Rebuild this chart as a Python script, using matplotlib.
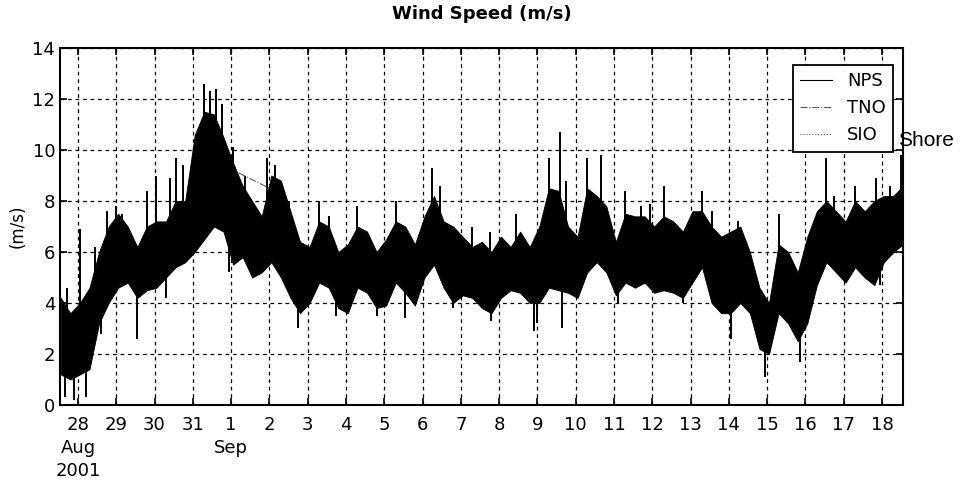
import matplotlib
matplotlib.use("Agg")
import matplotlib.pyplot as plt
import numpy as np

# wind speed (day 0 = 28 Aug 2001)
# core band of the record, one upper / lower level per 6 hours from day -0.45
t0 = -0.45
step = 0.25
hi = [4.2, 3.6, 4.0, 4.6, 6.0, 7.0, 7.5, 7.0, 6.2, 7.0,
      7.2, 7.2, 8.0, 8.0, 10.6, 11.5, 11.4, 10.5, 9.5, 8.6,
      8.0, 7.4, 9.0, 8.8, 7.6, 6.4, 6.2, 7.2, 7.0, 6.0,
      6.3, 7.0, 6.8, 6.0, 6.5, 7.2, 7.0, 6.3, 7.4, 8.2,
      7.2, 7.0, 6.6, 6.2, 6.4, 6.0, 6.6, 6.2, 6.8, 6.2,
      7.0, 8.5, 8.4, 7.0, 6.6, 8.5, 8.2, 7.8, 6.4, 7.5,
      7.4, 7.4, 7.0, 7.4, 7.2, 6.8, 7.6, 7.6, 7.0, 6.6,
      6.8, 7.0, 6.0, 4.6, 4.0, 6.3, 6.0, 5.2, 6.6, 7.6,
      8.0, 7.6, 7.2, 8.0, 7.6, 8.0, 8.2, 8.2, 8.6]
lo = [1.2, 1.0, 1.2, 1.4, 3.2, 4.0, 4.6, 4.8, 4.2, 4.5,
      4.6, 5.0, 5.4, 5.6, 6.0, 6.5, 7.0, 6.8, 5.5, 5.8,
      5.0, 5.2, 5.6, 5.0, 4.2, 3.6, 4.0, 4.8, 4.6, 3.8,
      3.6, 4.6, 4.4, 3.8, 3.9, 4.8, 4.4, 3.9, 5.0, 5.5,
      4.6, 4.0, 4.3, 4.2, 3.8, 3.6, 4.2, 4.5, 4.4, 4.0,
      4.0, 4.6, 4.5, 4.4, 4.2, 5.2, 5.6, 5.2, 4.3, 4.8,
      4.6, 4.8, 4.4, 4.5, 4.4, 4.2, 4.8, 5.4, 4.0, 3.6,
      3.6, 4.0, 3.6, 2.2, 2.0, 3.6, 3.2, 2.5, 3.2, 4.7,
      5.6, 5.2, 4.8, 5.4, 5.0, 4.7, 5.6, 6.0, 6.3]

# narrow gusts above the band and lulls below it
gust_t = [-0.3, 0.05, 0.45, 0.75, 1.0, 1.15, 1.8, 2.05, 2.4, 2.55,
          2.75, 3.3, 3.45, 3.6, 3.75, 4.05, 4.35, 4.95, 5.15, 5.5,
          6.3, 6.55, 7.3, 8.3, 8.7, 9.25, 9.45, 10.3, 10.75, 11.45,
          12.3, 12.6, 12.75, 13.3, 13.65, 14.3, 14.7, 14.95, 15.3, 16.3,
          16.55, 17.25, 18.3, 19.55, 19.75, 20.3, 20.85, 21.2, 21.5]
gust_v = [4.6, 6.9, 6.2, 7.6, 7.8, 7.5, 8.4, 9.0, 8.9, 9.7,
          9.4, 12.6, 12.3, 12.4, 11.8, 10.1, 9.0, 9.7, 9.4, 8.0,
          8.0, 7.4, 7.8, 8.0, 6.6, 9.3, 8.6, 7.0, 6.8, 7.5,
          9.7, 10.7, 8.8, 9.7, 9.8, 8.4, 7.8, 7.9, 8.6, 8.4,
          7.6, 7.2, 7.5, 9.7, 8.2, 8.6, 8.9, 8.6, 9.8]
lull_t = [-0.35, -0.1, 0.2, 0.6, 1.55, 2.3, 3.95, 5.75, 6.75, 7.8,
          8.55, 9.8, 10.8, 11.9, 12.0, 12.65, 14.1, 15.8, 17.05, 17.95,
          18.85, 20.95]
lull_v = [0.3, 0.2, 0.3, 2.8, 2.6, 4.2, 5.2, 3.0, 3.5, 3.5,
          3.4, 3.8, 3.3, 2.9, 3.2, 3.0, 4.0, 4.0, 2.6, 1.1,
          1.7, 4.7]

# short gap-fill segment of the TNO record
tno_t = [4.2, 5.0]
tno_v = [9.1, 8.5]

day_labels = ["28\nAug\n2001", "29", "30", "31", "1\nSep", "2", "3", "4", "5",
              "6", "7", "8", "9", "10", "11", "12", "13", "14", "15", "16",
              "17", "18"]

t = t0 + step * np.arange(len(hi))
mid = (np.array(hi) + np.array(lo)) / 2

fig = plt.figure(figsize=(9.63, 4.87), dpi=100)
ax = fig.add_axes([0.0623, 0.1684, 0.8754, 0.733])

ax.fill_between(t, lo, hi, color="black", linewidth=0.6, edgecolor="black")
ax.vlines(gust_t, np.interp(gust_t, t, mid), gust_v, color="black", linewidth=1.4)
ax.vlines(lull_t, lull_v, np.interp(lull_t, t, mid), color="black", linewidth=1.4)
ax.plot([], [], color="black", linewidth=0.8, label="NPS")
ax.plot(tno_t, tno_v, color="0.35", linewidth=0.8, linestyle="-.", label="TNO")
ax.plot([], [], color="0.35", linewidth=0.8, linestyle=":", label="SIO")

ax.set_xlim(-0.47, 21.55)
ax.set_ylim(0, 14)
ax.set_xticks(range(len(day_labels)))
ax.set_xticklabels(day_labels, fontsize=13, linespacing=1.35)
ax.set_yticks(range(0, 15, 2))
ax.set_yticklabels([str(y) for y in range(0, 15, 2)], fontsize=13)
ax.tick_params(direction="in", top=True, right=True, length=5, width=1.2)
ax.tick_params(axis="x", pad=8)
ax.grid(True, color="black", linestyle=(0, (3, 3)), linewidth=0.9)
for s in ax.spines.values():
    s.set_linewidth(1.5)

ax.set_title("Wind Speed (m/s)", fontsize=13, fontweight="bold", pad=21)
ax.set_ylabel("(m/s)", fontsize=12)

leg = ax.legend(loc="upper right", bbox_to_anchor=(0.988, 0.952), borderaxespad=0,
                fancybox=False, framealpha=1, edgecolor="black",
                prop={"size": 13}, handlelength=1.8)
leg.get_frame().set_linewidth(1.3)

fig.text(0.933, 1 - 140 / 487, "Shore", fontsize=15, family="Liberation Sans",
         va="center", ha="left")

fig.savefig("out.png", dpi=100)
